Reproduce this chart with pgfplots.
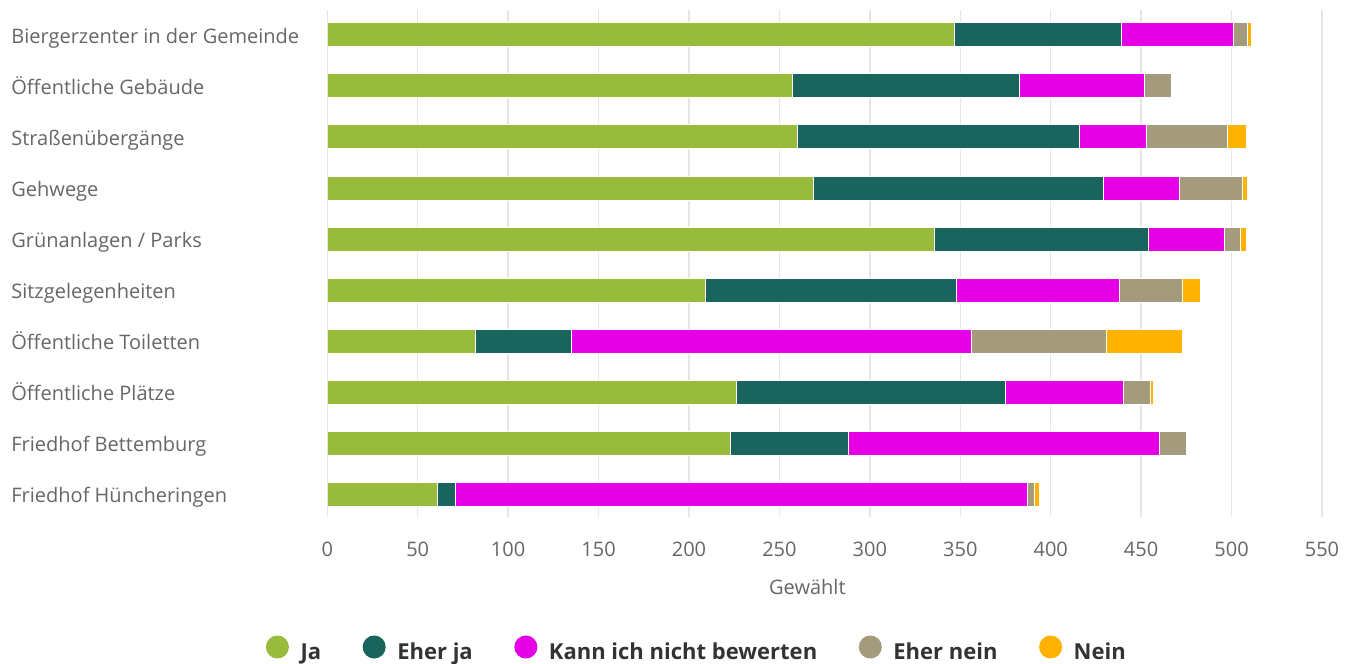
\documentclass[border=0pt]{standalone}
\usepackage{fontspec}
\setmainfont{Open Sans}
\usepackage{pgfplots}
\pgfplotsset{compat=1.18}
\usepackage{pgfplotstable}
\definecolor{cJa}{HTML}{99BB3B}
\definecolor{cEj}{HTML}{1A645E}
\definecolor{cK}{HTML}{E600E6}
\definecolor{cEn}{HTML}{A49A7C}
\definecolor{cN}{HTML}{FFB300}
\definecolor{gridc}{HTML}{E6E6E6}
\definecolor{labc}{HTML}{666666}
\definecolor{legc}{HTML}{333333}

\pgfplotstableread{
idx ja eherja kann ehernein nein
0 347 92 62 8 2
1 257 126 69 15 0
2 260 156 37 45 10
3 269 160 42 35 3
4 336 118 42 9 3
5 209 139 90 35 10
6 82 53 221 75 42
7 226 149 65 15 2
8 223 65 172 15 0
9 61 10 316 4 3
}\data

\begin{document}
\begin{tikzpicture}
\useasboundingbox (-163.65pt,-73pt) rectangle (512.35pt,258.5pt);
\begin{axis}[
  at={(0,0)}, anchor=south west,
  scale only axis, width=497.35pt, height=253.5pt,
  xbar stacked, bar width=12pt,
  xmin=0, xmax=550, xtick={0,50,...,550},
  ymin=-0.49, ymax=9.45, y dir=reverse,
  ytick={0,...,9},
  yticklabels={Biergerzenter in der Gemeinde, Öffentliche Gebäude, Straßenübergänge, Gehwege, Grünanlagen / Parks, Sitzgelegenheiten, Öffentliche Toiletten, Öffentliche Plätze, Friedhof Bettemburg, Friedhof Hüncheringen},
  axis line style={draw=none},
  major tick length=0pt,
  xmajorgrids, grid style={gridc, line width=0.75pt},
  /pgf/number format/assume math mode=true,
  xticklabel style={anchor=base, yshift=-19.5pt, inner sep=0pt, font=\fontsize{10}{12}\selectfont, text=labc},
  yticklabel style={anchor=base west, xshift=-158.15pt, yshift=-4.25pt, inner sep=0pt, font=\fontsize{10}{12}\selectfont, text=labc},
  xlabel={Gewählt},
  every axis x label/.style={at={(axis description cs:0.4826,0)}, anchor=base, yshift=-38.65pt, inner sep=0pt, font=\fontsize{10}{12}\selectfont, text=labc},
  legend columns=5,
  legend style={at={(axis description cs:-0.0621,-0.2605)}, anchor=west, draw=none, fill=none, inner sep=0pt,
    font=\fontsize{11}{13}\selectfont\bfseries, text=legc,
    nodes={inner sep=0pt},
    /tikz/every odd column/.append style={column sep=5.8pt},
    /tikz/every even column/.append style={column sep=20.8pt}},
]
\addplot[fill=cJa, draw=white, line width=0.5pt, legend image code/.code={\fill[cJa] (5.5pt,2.9pt) circle (5.5pt);}] table[x=ja, y=idx]{\data};
\addplot[fill=cEj, draw=white, line width=0.5pt, legend image code/.code={\fill[cEj] (5.5pt,2.9pt) circle (5.5pt);}] table[x=eherja, y=idx]{\data};
\addplot[fill=cK, draw=white, line width=0.5pt, legend image code/.code={\fill[cK] (5.5pt,2.9pt) circle (5.5pt);}] table[x=kann, y=idx]{\data};
\addplot[fill=cEn, draw=white, line width=0.5pt, legend image code/.code={\fill[cEn] (5.5pt,2.9pt) circle (5.5pt);}] table[x=ehernein, y=idx]{\data};
\addplot[fill=cN, draw=white, line width=0.5pt, legend image code/.code={\fill[cN] (5.5pt,2.9pt) circle (5.5pt);}] table[x=nein, y=idx]{\data};
\legend{Ja, Eher ja, Kann ich nicht bewerten, Eher nein, Nein}
\end{axis}
\end{tikzpicture}
\end{document}
